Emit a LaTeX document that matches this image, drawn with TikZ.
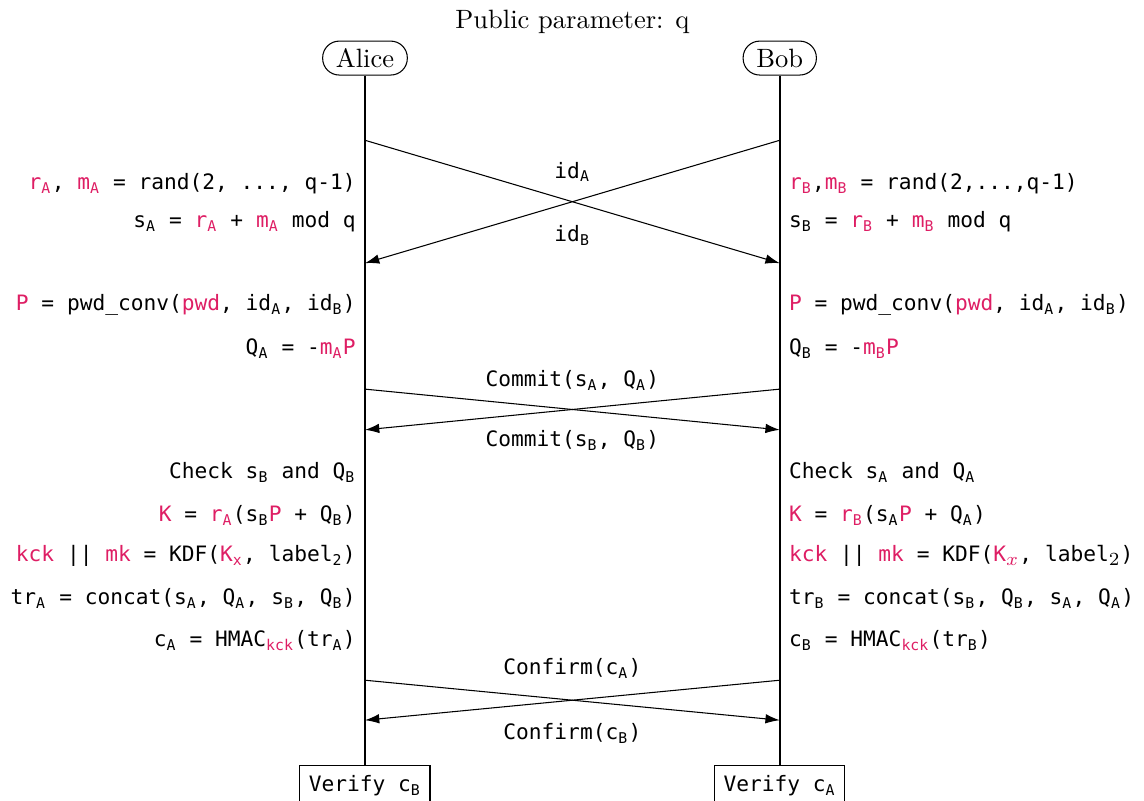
\documentclass[tikz,border=0pt]{standalone}
\usepackage{fontspec}
\setmonofont{DejaVu Sans Mono}[Scale=0.80]
\usetikzlibrary{arrows.meta}
\definecolor{secret}{RGB}{222,30,100}
\newcommand{\sv}[1]{\textcolor{secret}{#1}}
\newcommand{\tsub}[1]{\textsubscript{#1}}

\tikzset{
	party/.style={draw, rounded corners=0.22cm, minimum height=0.45cm, inner xsep=5pt, inner ysep=2pt},
	verifybox/.style={draw, font=\ttfamily, minimum height=0.52cm, anchor=north},
	msg/.style={-{Latex[length=5.4pt,width=3.6pt]}},
	lefttxt/.style={anchor=east, font=\ttfamily},
	righttxt/.style={anchor=west, font=\ttfamily},
	msgtxt/.style={font=\ttfamily}
}

\begin{document}
\begin{tikzpicture}
			%%%%% START %%%%%
			\useasboundingbox (-4.84, 0) rectangle (10.33, -10.62);
			
			\node (title) at (2.75, -0.29) {Public parameter: q};
			\node[party] (alice) at (0, -0.77) {Alice};
			\node[party] (bob) at (5.5, -0.77) {Bob};
			
			\node[verifybox] (verA) at (0, -10.15) {Verify c\tsub{B}};
			\node[verifybox] (verB) at (5.5, -10.15) {Verify c\tsub{A}};
			
			\draw[thick] (alice) -- (verA);
			\draw[thick] (bob) -- (verB);
			
			% ids
			\coordinate (a1) at (0, -1.86);
			\coordinate (b1) at (5.5, -1.86);
			\coordinate (a2) at (0, -3.49);
			\coordinate (b2) at (5.5, -3.49);
			\draw[msg] (a1) -- (b2);
			\draw[msg] (b1) -- (a2);
			\node[msgtxt] (idA) at (2.75, -2.28) {id\tsub{A}};
			\node[msgtxt] (idB) at (2.75, -3.12) {id\tsub{B}};
			
			\node[lefttxt] (la1) at (0, -2.43) {\sv{r\tsub{A}}, \sv{m\tsub{A}} = rand(2, ..., q-1)};
			\node[lefttxt] (la2) at (0, -2.94) {s\tsub{A} = \sv{r\tsub{A}} + \sv{m\tsub{A}} mod q};
			\node[righttxt] (rb1) at (5.5, -2.43) {\sv{r\tsub{B}},\sv{m\tsub{B}} = rand(2,...,q-1)};
			\node[righttxt] (rb2) at (5.5, -2.94) {s\tsub{B} = \sv{r\tsub{B}} + \sv{m\tsub{B}} mod q};
			
			\node[lefttxt] (la3) at (0, -4.05) {\sv{P} = pwd\_conv(\sv{pwd}, id\tsub{A}, id\tsub{B})};
			\node[lefttxt] (la4) at (0, -4.62) {Q\tsub{A} = -\sv{m\tsub{A}P}};
			\node[righttxt] (rb3) at (5.5, -4.05) {\sv{P} = pwd\_conv(\sv{pwd}, id\tsub{A}, id\tsub{B})};
			\node[righttxt] (rb4) at (5.5, -4.62) {Q\tsub{B} = -\sv{m\tsub{B}P}};
			
			% commit
			\coordinate (a3) at (0, -5.16);
			\coordinate (b3) at (5.5, -5.16);
			\coordinate (a4) at (0, -5.70);
			\coordinate (b4) at (5.5, -5.70);
			\draw[msg] (a3) -- (b4);
			\draw[msg] (b3) -- (a4);
			\node[msgtxt] (comA) at (2.75, -5.05) {Commit(s\tsub{A}, Q\tsub{A})};
			\node[msgtxt] (comB) at (2.75, -5.84) {Commit(s\tsub{B}, Q\tsub{B})};
			
			\node[lefttxt] (la5) at (0, -6.26) {Check s\tsub{B} and Q\tsub{B}};
			\node[lefttxt] (la6) at (0, -6.83) {\sv{K} = \sv{r\tsub{A}}(s\tsub{B}\sv{P} + Q\tsub{B})};
			\node[lefttxt] (la7) at (0, -7.37) {\sv{kck} || \sv{mk} = KDF(\sv{K\tsub{x}}, label\tsub{2})};
			\node[lefttxt] (la8) at (0, -7.93) {tr\tsub{A} = concat(s\tsub{A}, Q\tsub{A}, s\tsub{B}, Q\tsub{B})};
			\node[lefttxt] (la9) at (0, -8.49) {c\tsub{A} = HMAC\tsub{\sv{kck}}(tr\tsub{A})};
			
			\node[righttxt] (rb5) at (5.5, -6.26) {Check s\tsub{A} and Q\tsub{A}};
			\node[righttxt] (rb6) at (5.5, -6.83) {\sv{K} = \sv{r\tsub{B}}(s\tsub{A}\sv{P} + Q\tsub{A})};
			\node[righttxt] (rb7) at (5.5, -7.37) {\sv{kck} || \sv{mk} = KDF(\sv{K$_x$}, label$_2$)};
			\node[righttxt] (rb8) at (5.5, -7.93) {tr\tsub{B} = concat(s\tsub{B}, Q\tsub{B}, s\tsub{A}, Q\tsub{A})};
			\node[righttxt] (rb9) at (5.5, -8.49) {c\tsub{B} = HMAC\tsub{\sv{kck}}(tr\tsub{B})};
			
			% confirm
			\coordinate (a5) at (0, -9.02);
			\coordinate (b5) at (5.5, -9.02);
			\coordinate (a6) at (0, -9.55);
			\coordinate (b6) at (5.5, -9.55);
			\draw[msg] (a5) -- (b6);
			\draw[msg] (b5) -- (a6);
			\node[msgtxt] (cnfA) at (2.75, -8.87) {Confirm(c\tsub{A})};
			\node[msgtxt] (cnfB) at (2.75, -9.72) {Confirm(c\tsub{B})};
			
			%%%%% END %%%%%
\end{tikzpicture}
\end{document}
